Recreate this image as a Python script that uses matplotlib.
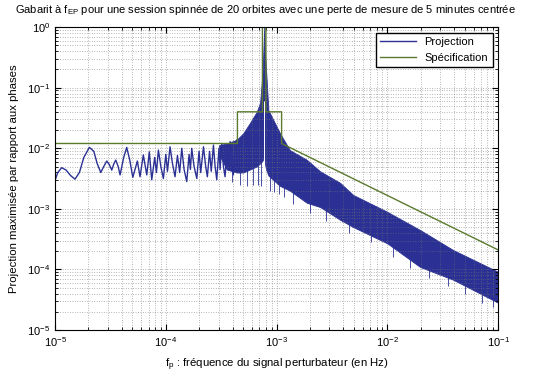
import numpy as np
import matplotlib
matplotlib.use("Agg")
import matplotlib.pyplot as plt

plt.rcParams['font.family'] = ['Liberation Sans', 'DejaVu Sans']
plt.rcParams['mathtext.default'] = 'regular'

# low frequency part of the projection: extrema (log10 values)
lf_log = [-5.0, -4.975, -4.94, -4.90, -4.86, -4.82, -4.78, -4.74, -4.69, -4.65,
          -4.62, -4.587, -4.56, -4.533, -4.51, -4.488, -4.47, -4.452, -4.43, -4.413,
          -4.38, -4.353, -4.325, -4.298, -4.257, -4.233, -4.203, -4.172, -4.149, -4.127,
          -4.10, -4.085, -4.067, -4.045, -4.022, -4.00, -3.985, -3.962, -3.94, -3.917,
          -3.895, -3.875, -3.856, -3.835, -3.811, -3.79, -3.778, -3.766, -3.745, -3.72,
          -3.70, -3.685, -3.66, -3.64, -3.625, -3.605, -3.59, -3.57, -3.555, -3.54,
          -3.52, -3.51, -3.495, -3.48, -3.465, -3.445, -3.432, -3.42, -3.405, -3.39,
          -3.375, -3.36]
lp_log = [-2.53, -2.40, -2.32, -2.36, -2.45, -2.51, -2.40, -2.15, -1.985, -2.05,
          -2.25, -2.40, -2.30, -2.21, -2.27, -2.36, -2.26, -2.195, -2.30, -2.44,
          -2.15, -1.985, -2.20, -2.48, -2.21, -2.47, -2.11, -2.44, -2.06, -2.52,
          -2.15, -2.40, -2.03, -2.30, -2.50, -2.10, -2.38, -1.975, -2.25, -2.47,
          -2.12, -2.40, -2.00, -2.35, -2.55, -2.10, -2.35, -2.00, -2.30, -2.50,
          -2.05, -2.40, -1.975, -2.30, -2.47, -2.05, -2.38, -1.947, -2.30, -2.52,
          -2.00, -2.35, -1.92, -2.30, -2.47, -1.95, -2.30, -1.89, -2.25, -2.44,
          -1.92, -1.865]

# dense band around and above the resonance (log10 values)
band_f_log = [-3.52, -3.45, -3.36, -3.30, -3.24, -3.18, -3.149, -3.125, -3.112, -3.105,
              -3.095, -3.074, -2.97, -2.88, -2.727, -2.607, -2.427, -2.309, -2.0, -1.704,
              -1.406, -1.0]
band_top_log = [-1.95, -1.92, -1.86, -1.75, -1.58, -1.40, -1.25, -0.71, 0.0, -0.40,
                -0.71, -1.37, -1.75, -2.03, -2.19, -2.38, -2.57, -2.77, -3.05, -3.35,
                -3.68, -4.04]
band_bot_log = [-2.10, -2.35, -2.40, -2.40, -2.35, -2.30, -2.25, -2.20, -2.10, -2.25,
                -2.35, -2.45, -2.62, -2.70, -2.90, -2.97, -3.18, -3.30, -3.57, -3.96,
                -4.17, -4.55]

# short downward spikes below the band
dip_f_log = [-3.40, -3.33, -3.27, -3.21, -3.17, -3.14, -3.06, -3.02, -2.98, -2.93, -2.85,
             -2.70, -2.55, -2.35, -2.15, -1.95, -1.80, -1.62, -1.45, -1.30, -1.15, -1.05]
dip_bot_log = [-2.55, -2.60, -2.62, -2.60, -2.60, -2.62, -2.70, -2.72, -2.76, -2.80, -2.92,
               -3.07, -3.20, -3.40, -3.55, -3.80, -3.97, -4.15, -4.27, -4.40, -4.55, -4.62]
dip_top_log = [-2.30, -2.35, -2.33, -2.28, -2.25, -2.20, -2.42, -2.50, -2.55, -2.59, -2.69,
               -2.86, -2.99, -3.21, -3.37, -3.59, -3.78, -3.97, -4.09, -4.22, -4.36, -4.45]

# white notch at the resonance frequency
notch_f = 7.72e-4
notch_lo = 3e-3
notch_hi = 0.06

# specification template
spec_f = [1e-5, 4.43e-4, 4.43e-4, 7.45e-4, 7.45e-4, 8.0e-4, 8.0e-4, 1.11e-3, 1.11e-3, 1e-1]
spec_v = [0.012, 0.012, 0.040, 0.040, 1.0, 1.0, 0.040, 0.040, 0.012, 2.1e-4]

blue = '#2b3194'
green = '#5b7a2e'

fig = plt.figure(figsize=(5.45, 3.72), dpi=100)
ax = fig.add_axes([0.101, 0.113, 0.813, 0.814])

lf = 10 ** np.array(lf_log)
lp = 10 ** np.array(lp_log)
bf = 10 ** np.array(band_f_log)
bt = 10 ** np.array(band_top_log)
bb = 10 ** np.array(band_bot_log)

h1, = ax.plot(lf, lp, '-', color=blue, lw=1.0, label='Projection')
ax.fill_between(bf, bb, bt, color=blue, lw=0.6, edgecolor=blue)
ax.vlines(10 ** np.array(dip_f_log), 10 ** np.array(dip_bot_log), 10 ** np.array(dip_top_log),
          color=blue, lw=0.6)
ax.vlines([notch_f], [notch_lo], [notch_hi], color='white', lw=0.7)
h2, = ax.plot(spec_f, spec_v, '-', color=green, lw=1.0, label='Spécification')

ax.set_xscale('log')
ax.set_yscale('log')
ax.set_xlim(1e-5, 1e-1)
ax.set_ylim(1e-5, 1e0)
ax.grid(True, which='both', ls=(0, (1, 2.5)), color='0.45', lw=0.5)
ax.tick_params(which='both', direction='in', top=True, right=True, labelsize=8)
ax.tick_params(which='major', length=4)
ax.tick_params(which='minor', length=2)

ax.legend(handles=[h1, h2], loc='upper right', fontsize=8, fancybox=False,
          edgecolor='black', framealpha=1, borderaxespad=0.5, handlelength=3.2)

fig.text(0.488, 0.972, 'Gabarit à f$_{EP}$ pour une session spinnée de 20 orbites avec une perte de mesure de 5 minutes centrée',
         ha='center', va='center', fontsize=8.0)
ax.set_xlabel('f$_p$ : fréquence du signal perturbateur (en Hz)', fontsize=8.2, labelpad=6)
ax.set_ylabel('Projection maximisée par rapport aux phases', fontsize=8.2, labelpad=6)

fig.savefig('out.png', dpi=100)
